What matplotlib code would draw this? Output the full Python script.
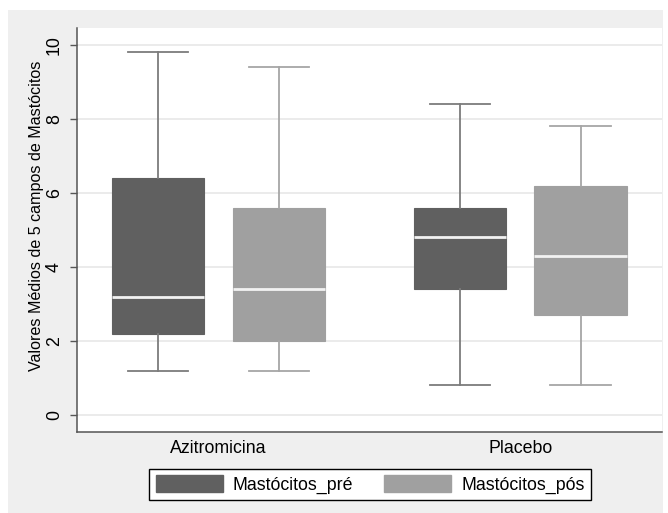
import matplotlib
matplotlib.use("Agg")
import matplotlib.pyplot as plt
from matplotlib.patches import Patch, Rectangle

plt.rcParams['font.family'] = ['Liberation Sans', 'DejaVu Sans']

# ---- data ----
groups = ["Azitromicina", "Placebo"]
series = ["Mastócitos_pré", "Mastócitos_pós"]
# per group, per series: (whislo, q1, med, q3, whishi)
whislo = [[1.2, 1.2], [0.8, 0.8]]
q1 = [[2.2, 2.0], [3.4, 2.7]]
med = [[3.2, 3.4], [4.8, 4.3]]
q3 = [[6.4, 5.6], [5.6, 6.2]]
whishi = [[9.8, 9.4], [8.4, 7.8]]
yticks = [0, 2, 4, 6, 8, 10]
ylabel = "Valores Médios de 5 campos de Mastócitos"

fills = ["#606060", "#a0a0a0"]
whisk = ["#7c7c7c", "#a6a6a6"]

W, H = 668, 513
fig = plt.figure(figsize=(W / 100, H / 100), dpi=100, facecolor="white")
fig.patches.append(Rectangle((8 / W, 0), (663 - 8) / W, 1 - 10 / H,
                             transform=fig.transFigure, facecolor="#efefef",
                             edgecolor="none", zorder=-10))

ax = fig.add_axes([77 / W, 1 - 432 / H, (662 - 77) / W, (432 - 28) / H])
ax.set_facecolor("white")

group_pos = [0.0, 2.5]
for gi, g in enumerate(groups):
    for si, s in enumerate(series):
        stats = [dict(whislo=whislo[gi][si], q1=q1[gi][si], med=med[gi][si],
                      q3=q3[gi][si], whishi=whishi[gi][si], fliers=[])]
        ax.bxp(stats, positions=[group_pos[gi] + si], widths=0.765,
               patch_artist=True, showfliers=False, capwidths=0.5,
               boxprops=dict(facecolor=fills[si], edgecolor=fills[si], linewidth=0.8),
               medianprops=dict(color="#f2f2f2", linewidth=2.0),
               whiskerprops=dict(color=whisk[si], linewidth=1.3),
               capprops=dict(color=whisk[si], linewidth=1.3),
               manage_ticks=False, zorder=3)

ax.set_xlim(-0.672, 4.174)
ax.set_ylim(-0.46, 10.46)
ax.set_yticks(yticks)
ax.set_yticklabels([str(t) for t in yticks], rotation=90, va="center", fontsize=12.8)
ax.set_xticks([p + 0.5 for p in group_pos])
ax.set_xticklabels(groups, fontsize=12.8)
ax.tick_params(axis="x", length=0, pad=6)
ax.tick_params(axis="y", length=5, width=1, color="#555555", pad=5)
ax.yaxis.grid(True, color="#e8e8e8", linewidth=1.2, zorder=0)
ax.set_axisbelow(True)
for side in ["top", "right"]:
    ax.spines[side].set_visible(False)
for side in ["left", "bottom"]:
    ax.spines[side].set_color("#555555")
    ax.spines[side].set_linewidth(1.1)

ax.set_ylabel(ylabel, fontsize=11.6)
ax.yaxis.label.set_va("center")
ax.yaxis.set_label_coords((37 - 77) / (662 - 77), (432 - 216) / (432 - 28))

handles = [Patch(facecolor=fills[i], edgecolor=fills[i], label=series[i]) for i in range(2)]
leg = fig.legend(handles=handles, loc="center", ncol=2,
                 bbox_to_anchor=(370 / W, 1 - 484.5 / H), fontsize=12.8,
                 frameon=True, fancybox=False, edgecolor="black", facecolor="white",
                 framealpha=1, handlelength=3.8, handleheight=1.07,
                 handletextpad=0.55, columnspacing=1.7, borderpad=0.35,
                 borderaxespad=0)
leg.get_frame().set_linewidth(1.0)

fig.savefig("out.png", dpi=100, facecolor="white")
